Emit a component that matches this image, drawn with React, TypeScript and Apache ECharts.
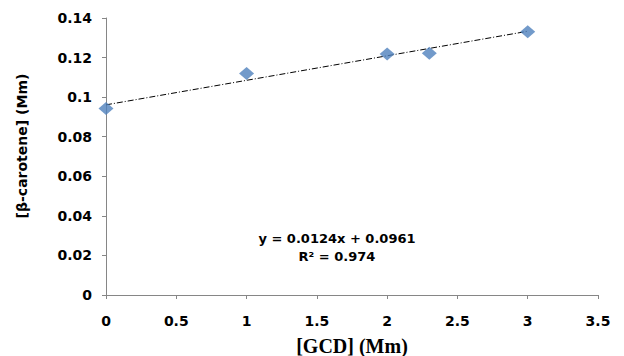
import React, { useEffect, useRef } from "react";
import * as echarts from "echarts";

const gcd = [0, 1, 2, 2.3, 3];
const carotene = [0.0943, 0.112, 0.1218, 0.1222, 0.1331];
const slope = 0.0124;
const intercept = 0.0961;
const trendX = [0, 3];
const equationText = "y = 0.0124x + 0.0961";
const r2Text = "R² = 0.974";
const xName = "[GCD] (Mm)";
const yName = "[β-carotene] (Mm)";

export default function App() {
  const ref = useRef<HTMLDivElement>(null);
  useEffect(() => {
    if (!ref.current) return;
    const chart = echarts.init(ref.current, null, { renderer: "svg" });
    const axisLabel = { color: "#000", fontWeight: "bold" as const, fontSize: 14, fontFamily: "DejaVu Sans" };
    chart.setOption({
      animation: false,
      backgroundColor: "#fff",
      grid: { left: 106, right: 26, top: 18, bottom: 61, outerBoundsMode: "none", containLabel: false },
      xAxis: {
        type: "value",
        min: 0,
        max: 3.5,
        interval: 0.5,
        splitLine: { show: false },
        axisLine: { lineStyle: { color: "#868686" } },
        axisTick: { lineStyle: { color: "#868686" }, length: 4 },
        axisLabel: { ...axisLabel, margin: 19 },
        name: xName,
        nameLocation: "middle",
        nameGap: 41,
        nameTextStyle: { color: "#000", fontWeight: "bold", fontSize: 20, fontFamily: "Liberation Serif" },
      },
      yAxis: {
        type: "value",
        min: 0,
        max: 0.14,
        interval: 0.02,
        splitLine: { show: false },
        axisLine: { show: true, lineStyle: { color: "#868686" } },
        axisTick: { show: true, lineStyle: { color: "#868686" }, length: 4 },
        axisLabel: { ...axisLabel, margin: 14 },
      },
      series: [
        {
          type: "line",
          data: trendX.map((x) => [x, slope * x + intercept]),
          symbol: "none",
          lineStyle: { color: "#000", width: 1, type: [6, 2, 1, 2] },
          z: 1,
        },
        {
          type: "scatter",
          data: gcd.map((x, i) => [x, carotene[i]]),
          symbol: "diamond",
          symbolSize: [15, 13],
          itemStyle: { color: "#4F81BD" },
          z: 2,
        },
      ],
      graphic: [
        {
          type: "text",
          x: 22,
          y: 146,
          rotation: Math.PI / 2,
          style: { text: yName, align: "center", verticalAlign: "middle", fill: "#000", font: "bold 14px 'DejaVu Sans'" },
        },
        {
          type: "text",
          x: 337,
          y: 238,
          style: { text: equationText, align: "center", verticalAlign: "middle", fill: "#000", font: "bold 13px 'DejaVu Sans'" },
        },
        {
          type: "text",
          x: 337,
          y: 256,
          style: { text: r2Text, align: "center", verticalAlign: "middle", fill: "#000", font: "bold 13px 'DejaVu Sans'" },
        },
      ],
    });
    return () => chart.dispose();
  }, []);
  return <div ref={ref} style={{ width: 624, height: 356, position: "absolute", left: 0, top: 0 }} />;
}
